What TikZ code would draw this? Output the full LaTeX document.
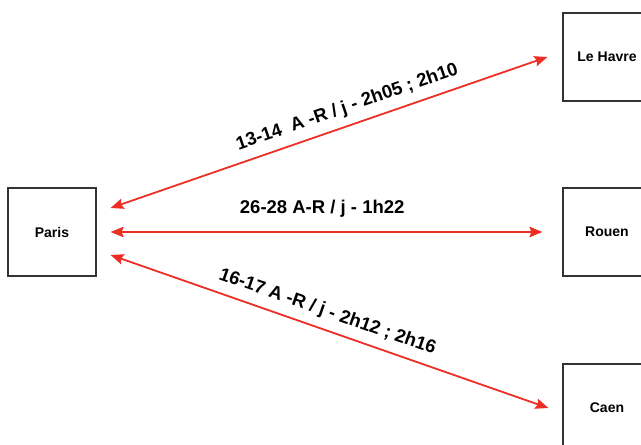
\documentclass[tikz,border=0pt]{standalone}
\usepackage{fontspec}
\setmainfont{Liberation Sans}
\definecolor{arrred}{RGB}{236,46,36}
\definecolor{boxgray}{RGB}{51,51,51}
\usetikzlibrary{arrows.meta,calc}

\begin{document}
\begin{tikzpicture}[x=1pt, y=1pt,
    citybox/.style={rectangle, draw=boxgray, line width=1.2pt, fill=white,
                    minimum width=88pt, minimum height=88pt,
                    font=\fontsize{14}{16}\selectfont\bfseries},
    arr/.style={>={Stealth[length=13pt,width=10.5pt,inset=2pt]}, <->, line width=1.8pt, arrred},
    lbl/.style={sloped, above=8pt, inner sep=0pt, text=black,
                font=\fontsize{18.5}{20}\selectfont\bfseries}
  ]
  \useasboundingbox (0,0) rectangle (641,445);

  \node[citybox] (paris) at (52,213)  {Paris};
  \node[citybox] (havre) at (607,388) {Le Havre};
  \node[citybox] (rouen) at (607,213) {Rouen};
  \node[citybox] (caen)  at (607,37)  {Caen};

  \draw[arr] ([shift={(14,24)}]paris.east) -- node[lbl, pos=0.555] {13-14\ \ A -R / j - 2h05 ; 2h10} ([shift={(-15,0)}]havre.west);
  \draw[arr] ([shift={(14,0)}]paris.east) -- node[lbl, pos=0.49, above=6pt] {26-28 A-R / j - 1h22} ([shift={(-20,0)}]rouen.west);
  \draw[arr] ([shift={(14,-23)}]paris.east) -- node[lbl, pos=0.482] {16-17 A -R / j - 2h12 ; 2h16} ([shift={(-14,0)}]caen.west);
\end{tikzpicture}
\end{document}
